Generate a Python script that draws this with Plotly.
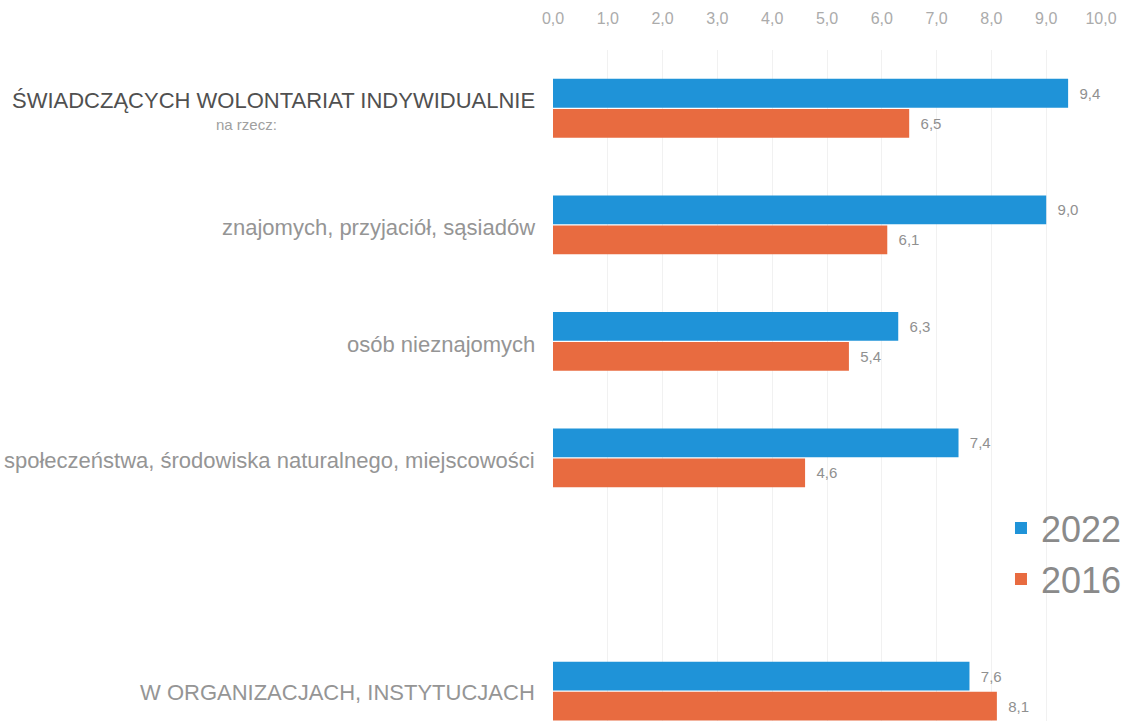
import plotly.graph_objects as go

categories = [
    "ŚWIADCZĄCYCH WOLONTARIAT INDYWIDUALNIE",
    "znajomych, przyjaciół, sąsiadów",
    "osób nieznajomych",
    "społeczeństwa, środowiska naturalnego, miejscowości",
    " ",
    "W ORGANIZACJACH, INSTYTUCJACH",
]
subtitle = "na rzecz:"
values_2022 = [9.4, 9.0, 6.3, 7.4, None, 7.6]
values_2016 = [6.5, 6.1, 5.4, 4.6, None, 8.1]
x_ticks = [0, 1, 2, 3, 4, 5, 6, 7, 8, 9, 10]

BLUE = "#1f93d8"
ORANGE = "#e86b40"
FONT = "Liberation Sans, Arial, sans-serif"
NB = "\u00a0\u00a0"

fig = go.Figure()
fig.add_trace(go.Bar(
    y=categories, x=values_2022, orientation="h", name="2022",
    marker=dict(color=BLUE, line=dict(width=0)),
    texttemplate=NB + "%{x:.1f}", textposition="outside",
    textfont=dict(size=15, color="#909090", family=FONT),
    cliponaxis=False, legendgroup="a",
))
fig.add_trace(go.Bar(
    y=categories, x=values_2016, orientation="h", name="2016",
    marker=dict(color=ORANGE, line=dict(width=0)),
    texttemplate=NB + "%{x:.1f}", textposition="outside",
    textfont=dict(size=15, color="#909090", family=FONT),
    cliponaxis=False, legendgroup="b",
))

# y-axis labels as annotations (custom styling per label)
annotations = []
annotations.append(dict(
    x=0, xref="paper", y=categories[0], yref="y", xanchor="right", yanchor="middle",
    xshift=-16, yshift=8, showarrow=False, text=categories[0],
    font=dict(family=FONT, size=22, color="#505050"),
))
annotations.append(dict(
    x=0, xref="paper", y=categories[0], yref="y", xanchor="center", yanchor="middle",
    xshift=-307, yshift=-16, showarrow=False, text=subtitle,
    font=dict(family=FONT, size=15, color="#a0a0a0"),
))
for c in categories[1:4]:
    annotations.append(dict(
        x=0, xref="paper", y=c, yref="y", xanchor="right", yanchor="middle",
        xshift=-16, yshift=-3, showarrow=False, text=c,
        font=dict(family=FONT, size=22, color="#959595"),
    ))
annotations.append(dict(
    x=0, xref="paper", y=categories[5], yref="y", xanchor="right", yanchor="middle",
    xshift=-16, yshift=-1, showarrow=False, text=categories[5],
    font=dict(family=FONT, size=22, color="#959595"),
))

fig.update_layout(
    width=1128, height=721,
    margin=dict(l=553, r=27, t=50, b=0, pad=0, autoexpand=False),
    paper_bgcolor="white", plot_bgcolor="white",
    separators=", ",
    barmode="group", bargap=0.485, bargroupgap=0.04,
    font=dict(family=FONT),
    showlegend=True,
    legend=dict(
        xref="container", yref="container",
        x=0.8874, y=0.309, xanchor="left", yanchor="top",
        font=dict(size=36, color="#8a8a8a", family=FONT),
        tracegroupgap=1, traceorder="grouped",
        bgcolor="rgba(0,0,0,0)",
    ),
    annotations=annotations,
    xaxis=dict(
        side="top", range=[0, 10], tickvals=x_ticks, tickformat=".1f",
        showgrid=True, gridcolor="#f1f1f1", gridwidth=1,
        zeroline=False, showline=False, ticks="", automargin=False,
        ticklabelstandoff=22,
        tickfont=dict(size=16, color="#ababab", family=FONT),
    ),
    yaxis=dict(
        type="category", categoryorder="array", categoryarray=categories,
        range=[5.257, -0.5], showticklabels=False, showgrid=False,
        zeroline=False, showline=False, ticks="", automargin=False,
    ),
)

fig.write_html(
    "out.html",
    config={"displayModeBar": False},
    post_script="document.body.style.margin='0px';document.body.style.overflow='hidden';",
)
